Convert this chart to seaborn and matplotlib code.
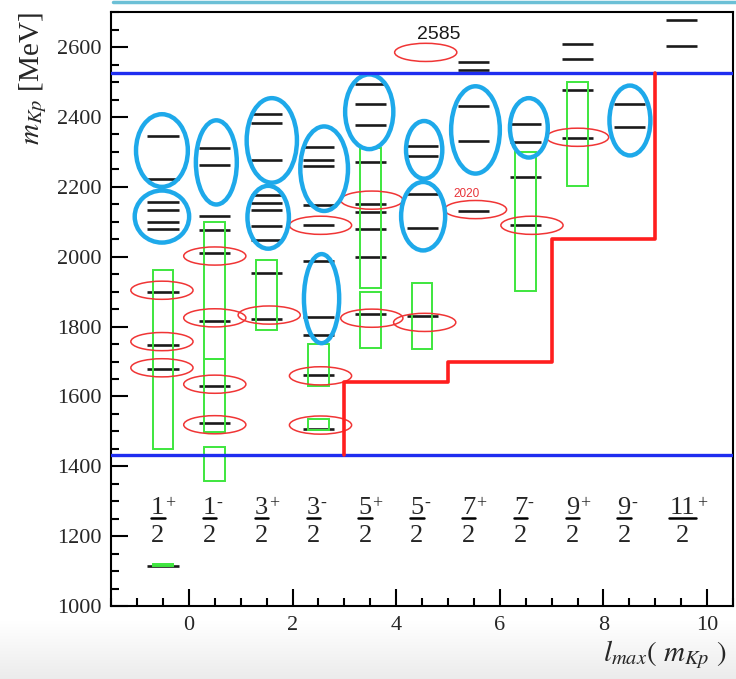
import numpy as np
import pandas as pd
import matplotlib
matplotlib.use("Agg")
import matplotlib.pyplot as plt
from matplotlib.patches import Ellipse, Rectangle
from matplotlib.lines import Line2D
import seaborn as sns

# ---------------- data ----------------
jp_x = [-0.5, 0.5, 1.5, 2.5, 3.5, 4.5, 5.5, 6.5, 7.5, 8.5, 9.5]
jp_numerators = ['1', '1', '3', '3', '5', '5', '7', '7', '9', '9', '11']
jp_parities = ['+', '-', '+', '-', '+', '-', '+', '-', '+', '-', '+']
jp_denominator = '2'

# model levels per J^P column (MeV)
levels_1p = [1115, 1678, 1747, 1900, 2078, 2100, 2133, 2157, 2222, 2346]
levels_1m = [1525, 1631, 1817, 2011, 2077, 2117, 2264, 2311]
levels_3p = [1823, 1952, 2047, 2087, 2133, 2155, 2178, 2278, 2383, 2410]
levels_3m = [1507, 1661, 1776, 1828, 1987, 2091, 2147, 2260, 2276, 2314]
levels_5p = [1836, 2000, 2079, 2129, 2151, 2270, 2377, 2436, 2495]
levels_5m = [1830, 2081, 2181, 2289, 2317]
levels_7p = [2131, 2331, 2431, 2534, 2558]
levels_7m = [2090, 2228, 2329, 2381]
levels_9p = [2341, 2478, 2565, 2610]
levels_9m = [2370, 2437]
levels_11p = [2602, 2677]

# experimental mass ranges (green boxes)
box_x = [-0.5, -0.5, 0.5, 0.5, 0.5, 1.5, 2.5, 2.5, 3.5, 3.5, 4.5, 6.5, 7.5]
box_low = [1450, 1115, 1706, 1499, 1357, 1790, 1630, 1503, 1911, 1739, 1735, 1902, 2202]
box_high = [1961, 1119, 2100, 1706, 1455, 1990, 1750, 1534, 2310, 1900, 1925, 2300, 2500]

# matched states (red ellipses)
red_x = [-0.52, -0.52, -0.52, 0.5, 0.5, 0.5, 0.5, 1.55, 2.54, 2.54, 2.54,
         3.53, 3.53, 4.55, 4.57, 5.53, 6.62, 7.5]
red_mass = [1904, 1757, 1682, 2002, 1825, 1635, 1519, 1833, 2090, 1659, 1518,
            2162, 1824, 1812, 2585, 2135, 2090, 2342]

# groups of unmatched states (blue ellipses)
blue_x = [-0.52, -0.52, 0.53, 1.6, 1.53, 2.61, 2.56, 3.48, 4.54, 4.52, 5.53, 6.56, 8.51]
blue_mass = [2304, 2115, 2270, 2333, 2113, 2252, 1880, 2415, 2306, 2116, 2363, 2369, 2390]
blue_width = [1.0, 1.05, 0.79, 0.97, 0.8, 0.92, 0.68, 0.93, 0.7, 0.85, 0.94, 0.73, 0.79]
blue_height = [208, 149, 241, 242, 180, 242, 255, 214, 165, 196, 250, 170, 200]

# K p mass window and l_max thresholds
band_low = 1432
band_high = 2525
step_l = [3, 3, 5, 7, 9]
step_mass = [1432, 1640, 1700, 2050, 2525]

annot_2585 = ('2585', 4.82, 2637)
annot_2020 = ('2020', 5.35, 2179)

# ---------------- style ----------------
sns.set_style("ticks")
plt.rcParams['font.family'] = ['Liberation Serif', 'DejaVu Serif']
plt.rcParams['mathtext.fontset'] = 'stix'

fig = plt.figure(figsize=(7.36, 6.79), dpi=100)
ax = fig.add_axes([0.151, 0.1075, 0.845, 0.8745])

# background decorations of the screenshot (gray gradient at bottom, cyan line on top)
bg = fig.add_axes([0, 0, 1, 0.085], zorder=-5)
grad = np.linspace(1.0, 0.925, 64).reshape(-1, 1)
bg.imshow(np.dstack([grad, grad, grad]), aspect='auto', extent=[0, 1, 0, 1], origin='upper')
bg.set_axis_off()
fig.add_artist(Line2D([0.153, 1.0], [0.9975, 0.9975], transform=fig.transFigure,
                      color='#6cc0d6', lw=2.5))

# levels
level_lists = [levels_1p, levels_1m, levels_3p, levels_3m, levels_5p, levels_5m,
               levels_7p, levels_7m, levels_9p, levels_9m, levels_11p]
lev = pd.DataFrame({
    'x': np.concatenate([[x] * len(l) for x, l in zip(jp_x, level_lists)]),
    'mass': np.concatenate(level_lists),
})
half = 0.3
ax.hlines(lev['mass'], lev['x'] - half, lev['x'] + half, color='#1a1a1a', lw=1.9, zorder=3)

# green boxes
for x, lo, hi in zip(box_x, box_low, box_high):
    ax.add_patch(Rectangle((x - 0.2, lo), 0.4, hi - lo, fill=False,
                           edgecolor='#3ee63e', lw=1.4, zorder=4))

# red ellipses
for x, m in zip(red_x, red_mass):
    ax.add_patch(Ellipse((x, m), 1.2, 52, fill=False, edgecolor='#f03535', lw=1.1, zorder=5))

# blue ellipses
for x, m, w, h in zip(blue_x, blue_mass, blue_width, blue_height):
    ax.add_patch(Ellipse((x, m), w, h, fill=False, edgecolor='#1ea9ea', lw=3.2, zorder=5))

# window lines
ax.axhline(band_low, color='#1f2ef0', lw=2.4, zorder=6)
ax.axhline(band_high, color='#1f2ef0', lw=2.4, zorder=6)

# threshold step line
sns.lineplot(x=step_l, y=step_mass, sort=False, estimator=None, ax=ax,
             drawstyle='steps-post', color='#ff1e1e', lw=2.6, zorder=6)

# J^P labels
for x, num, par in zip(jp_x, jp_numerators, jp_parities):
    w = 0.26 * len(num)
    left = x - 0.23
    ax.text(left + w / 2, 1262, num, ha='center', va='baseline', fontsize=19, zorder=7)
    ax.text(left + w + 0.01, 1280, par, ha='left', va='baseline', fontsize=13, zorder=7)
    ax.plot([left, left + w], [1253, 1253], color='black', lw=1.8, zorder=7)
    ax.text(left + w / 2, 1183, jp_denominator, ha='center', va='baseline', fontsize=19, zorder=7)

ax.text(annot_2585[1], annot_2585[2], annot_2585[0], ha='center', va='center',
        fontsize=14, family='Liberation Sans', color='#1a1a1a')
ax.text(annot_2020[1], annot_2020[2], annot_2020[0], ha='center', va='center',
        fontsize=8.5, family='Liberation Sans', color='#e8343a')

# axes
ax.set_xlim(-1.5, 10.5)
ax.set_ylim(1000, 2700)
ax.set_xticks([0, 2, 4, 6, 8, 10])
ax.set_xticks(np.arange(-1.5, 10.51, 0.5), minor=True)
ax.set_yticks(np.arange(1000, 2601, 200))
ax.set_yticks(np.arange(1000, 2701, 50), minor=True)
ax.tick_params(which='both', direction='in', top=False, right=False, width=1.5, color='black')
ax.tick_params(which='major', length=12, labelsize=16, pad=7)
ax.tick_params(which='minor', length=6)
for s in ax.spines.values():
    s.set_linewidth(1.5)
    s.set_color('black')
ax.set_xlabel('')
ax.set_ylabel('')

ax.text(-0.125, 1.0, r'$m_{Kp}$ [MeV]', rotation=90, ha='center', va='top',
        fontsize=21, transform=ax.transAxes)
ax.text(0.99, -0.093, r'$l_{max}(\ m_{Kp}\ )$', ha='right', va='baseline',
        fontsize=21, transform=ax.transAxes)

fig.savefig('out.png', dpi=100)
